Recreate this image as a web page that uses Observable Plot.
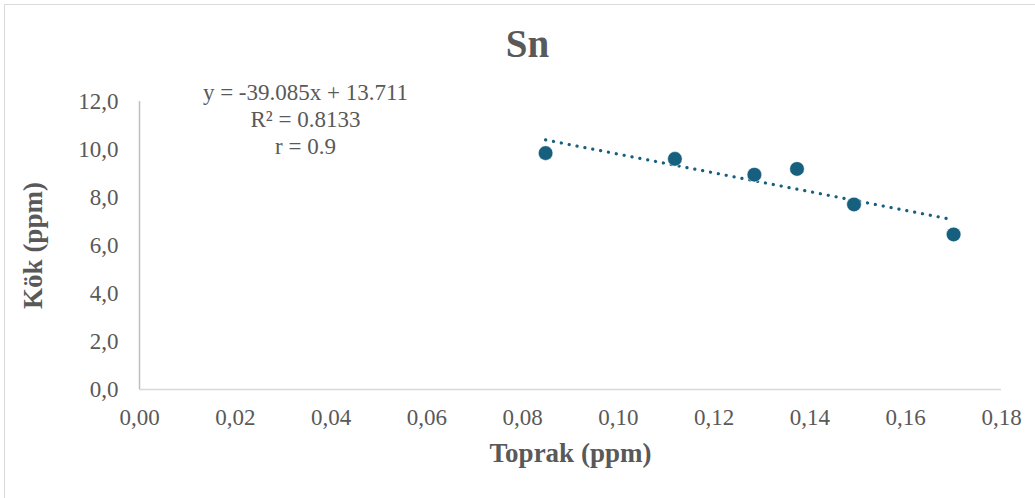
<!DOCTYPE html>
<html>
<head>
<meta charset="utf-8">
<script src="https://cdn.jsdelivr.net/npm/d3@7"></script>
<script src="https://cdn.jsdelivr.net/npm/@observablehq/plot@0.6"></script>
<style>
  html, body { margin: 0; padding: 0; background: #fff; overflow: hidden; }
  #wrap { position: relative; width: 1035px; height: 498px; }
  #border { position: absolute; left: 4px; top: 4px; width: 1040px; height: 500px; border: 1px solid #d9d9d9; box-sizing: border-box; pointer-events: none; }
</style>
</head>
<body>
<div id="wrap"><div id="border"></div></div>
<script>
// Data
const toprak = [0.0848, 0.1118, 0.1284, 0.1373, 0.1492, 0.1700];
const kok    = [9.85, 9.61, 8.95, 9.19, 7.71, 6.46];
// Trend line endpoints (y = -39.085x + 13.711)
const trendX = [0.0848, 0.1695];
const trendY = [10.40, 7.09];
const xTicks = [0, 0.02, 0.04, 0.06, 0.08, 0.10, 0.12, 0.14, 0.16, 0.18];
const yTicks = [0, 2, 4, 6, 8, 10, 12];
const titleText = "Sn";
const xLabel = "Toprak (ppm)";
const yLabel = "Kök (ppm)";
const equationLines = ["y = -39.085x + 13.711", "R² = 0.8133", "r = 0.9"];

const points = toprak.map((x, i) => ({x, y: kok[i]}));
const trend = trendX.map((x, i) => ({x, y: trendY[i]}));

const color = "#175F7E";
const textColor = "#595959";

const chart = Plot.plot({
  width: 1035,
  height: 498,
  marginLeft: 139,
  marginRight: 34,
  marginTop: 101,
  marginBottom: 109,
  style: {fontFamily: "Liberation Serif", fontSize: "23px", color: textColor, background: "transparent"},
  x: {domain: [0, 0.18]},
  y: {domain: [0, 12]},
  marks: [
    Plot.ruleY([0], {stroke: "#d9d9d9", strokeWidth: 1.5}),
    Plot.ruleX([0], {stroke: "#bfbfbf", strokeWidth: 1.5}),
    Plot.axisX(xTicks, {tickSize: 0, tickPadding: 19, tickFormat: d => d.toFixed(2).replace(".", ","), label: null, fontSize: 23, fill: textColor}),
    Plot.axisY(yTicks, {tickSize: 0, tickPadding: 21, tickFormat: d => d.toFixed(1).replace(".", ","), label: null, fontSize: 23, fill: textColor}),
    Plot.line(trend, {x: "x", y: "y", stroke: color, strokeWidth: 3.2, strokeDasharray: "0.1 7.9", strokeLinecap: "round"}),
    Plot.dot(points, {x: "x", y: "y", r: 7.3, fill: color, stroke: "white", strokeWidth: 0.5}),
    Plot.text([titleText], {frameAnchor: "top", dx: -43, dy: -57, lineAnchor: "middle", text: d => d, fontSize: 39, fontWeight: "bold", fill: textColor}),
    Plot.text([xLabel], {frameAnchor: "bottom", dy: 64, lineAnchor: "middle", textAnchor: "middle", text: d => d, fontSize: 27, fontWeight: "bold", fill: textColor}),
    Plot.text([yLabel], {frameAnchor: "left", dx: -106, rotate: -90, textAnchor: "middle", lineAnchor: "middle", text: d => d, fontSize: 27, fontWeight: "bold", fill: textColor}),
    Plot.text([equationLines.join("\n")], {frameAnchor: "top-left", dx: 166, dy: 17, text: d => d, textAnchor: "middle", lineAnchor: "middle", lineHeight: 1.16, fontSize: 23, fill: textColor})
  ]
});
document.getElementById("wrap").prepend(chart);
</script>
</body>
</html>
